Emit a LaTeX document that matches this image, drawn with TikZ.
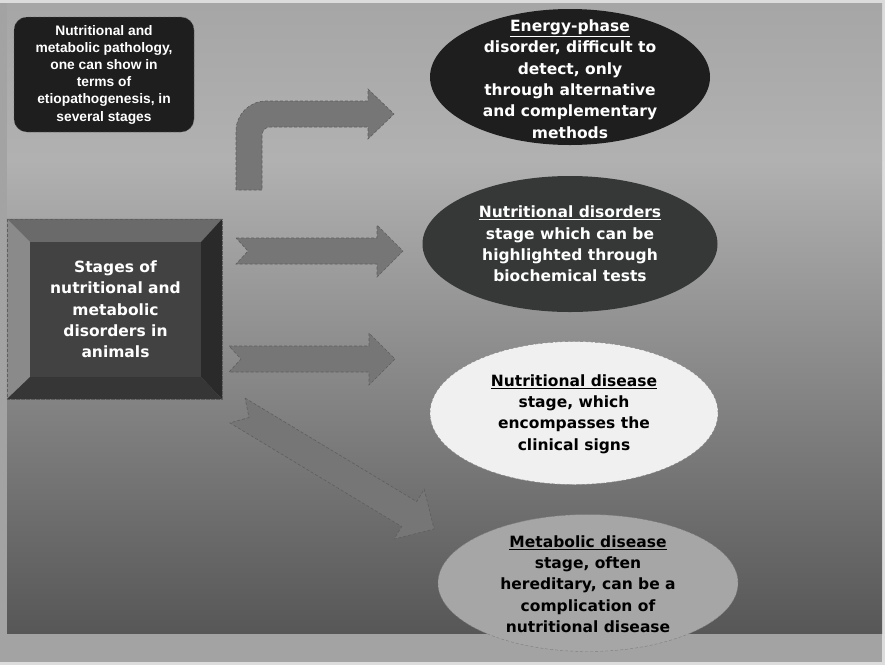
\documentclass[tikz,border=0pt]{standalone}
\usepackage{fontspec}
\setsansfont{DejaVu Sans}
\newfontfamily\boxfont{Liberation Sans}
\usetikzlibrary{shapes.geometric,calc}

\definecolor{bgtop}{HTML}{A6A6A6}
\definecolor{bgmid}{HTML}{B0B1B0}
\definecolor{bgbot}{HTML}{575757}
\definecolor{bandgray}{HTML}{A3A3A3}
\definecolor{framegray}{HTML}{DCDCDC}
\definecolor{darkfill}{HTML}{1E1E1E}
\definecolor{slatefill}{HTML}{363838}
\definecolor{palefill}{HTML}{EFF0EF}
\definecolor{midfill}{HTML}{A6A6A6}
\definecolor{arrowgray}{HTML}{767676}
\definecolor{edgegray}{HTML}{5E5E5E}
\definecolor{bevtop}{HTML}{6A6A6A}
\definecolor{bevleft}{HTML}{8A8A8A}
\definecolor{bevright}{HTML}{2A2A2A}
\definecolor{bevbottom}{HTML}{363636}
\definecolor{bevface}{HTML}{424242}

\begin{document}
\begin{tikzpicture}[
	x=1pt, y=-1pt,
	font=\sffamily\bfseries\fontsize{15.5}{21.3}\selectfont,
	introbox/.style={
		draw=edgegray,
		densely dashed,
		rounded corners=13pt,
		fill=darkfill,
		text=white,
		minimum width=180pt,
		minimum height=115pt,
		inner sep=0pt,
		align=center,
		font=\boxfont\bfseries\fontsize{13.8}{17.2}\selectfont,
	},
	bevelouter/.style={
		draw=edgegray,
		densely dashed,
		minimum width=215pt,
		minimum height=180pt,
		inner sep=0pt,
	},
	bevelface/.style={
		fill=bevface,
		text=white,
		minimum width=171pt,
		minimum height=135pt,
		inner sep=0pt,
		align=center,
	},
	phase/.style={ellipse, inner sep=0pt},
	phaseline/.style={phase, draw=edgegray!80, densely dashed},
	lighttext/.style={text=white, align=center, inner sep=0pt},
	darktext/.style={text=black, align=center, inner sep=0pt},
	blockarrow/.style={
		fill=arrowgray,
		draw=edgegray,
		densely dashed,
		line width=0.6pt,
	},
]

% --- Slide background ---
\useasboundingbox (0,0) rectangle (885,665);
\fill[framegray] (0,0) rectangle (885,665);
\fill[bandgray] (0,3) rectangle (882,662);
\shade[top color=bgtop, bottom color=bgmid] (7,3) rectangle (882,160);
\shade[top color=bgmid, bottom color=bgbot] (7,160) rectangle (882,633);

% --- Intro box (top left) ---
\node[introbox] (intro) at (104,74.5) {Nutritional and\\metabolic pathology,\\one can show in\\terms of\\etiopathogenesis, in\\several stages};

% --- Bevelled main box ---
\node[bevelouter] (stagesframe) at (114.5,309) {};
\node[bevelface] (stages) at (115.5,309.5) {};
\fill[bevtop] (stagesframe.north west) -- (stagesframe.north east) -- (stages.north east) -- (stages.north west) -- cycle;
\fill[bevleft] (stagesframe.north west) -- (stages.north west) -- (stages.south west) -- (stagesframe.south west) -- cycle;
\fill[bevright] (stagesframe.north east) -- (stagesframe.south east) -- (stages.south east) -- (stages.north east) -- cycle;
\fill[bevbottom] (stagesframe.south west) -- (stages.south west) -- (stages.south east) -- (stagesframe.south east) -- cycle;
\draw[edgegray, densely dashed] (stagesframe.north west) rectangle (stagesframe.south east);
\node[lighttext] (stagestext) at (stages) {Stages of\\nutritional and\\metabolic\\disorders in\\animals};

% --- Block arrows ---
\draw[blockarrow] (236,190) -- (236,131) .. controls (236,114.5) and (249.5,101) .. (266,101)
	-- (368,101) -- (368,89) -- (394,114) -- (368,139) -- (368,127)
	-- (270,127) .. controls (265.6,127) and (262,130.6) .. (262,135) -- (262,190) -- cycle;
\foreach \ax/\ay/\alen/\aang/\ascale in {236/251/167/0/1, 229/359/166/0/1, 237.5/410.5/205/-31.1/1.12} {
	\draw[blockarrow, shift={(\ax,\ay)}, rotate=\aang, scale=\ascale]
		(0,-13) -- (\alen-26,-13) -- (\alen-26,-26) -- (\alen,0)
		-- (\alen-26,26) -- (\alen-26,13) -- (0,13) -- (12,0) -- cycle;
}

% --- Stage ellipses ---
\node[phase, fill=darkfill, minimum width=280pt, minimum height=136pt] (energy) at (570,77) {};
\node[lighttext] (energytext) at ($(energy)+(0,2)$) {\underline{Energy-phase}\\disorder, difficult to\\detect, only\\through alternative\\and complementary\\methods};

\node[phase, fill=slatefill, minimum width=295pt, minimum height=136pt] (disorders) at (570,244) {};
\node[lighttext] (disorderstext) at (disorders) {\underline{Nutritional disorders}\\stage which can be\\highlighted through\\biochemical tests};

\node[phaseline, fill=palefill, minimum width=288pt, minimum height=143pt] (nutrdisease) at (574,413) {};
\node[darktext] (nutrdiseasetext) at ($(nutrdisease)+(0,1)$) {\underline{Nutritional disease}\\stage, which\\encompasses the\\clinical signs};

\node[phaseline, fill=midfill, minimum width=300pt, minimum height=137pt] (metabdisease) at (588,583) {};
\node[darktext] (metabdiseasetext) at ($(metabdisease)+(0,1)$) {\underline{Metabolic disease}\\stage, often\\hereditary, can be a\\complication of\\nutritional disease};

\end{tikzpicture}
\end{document}
